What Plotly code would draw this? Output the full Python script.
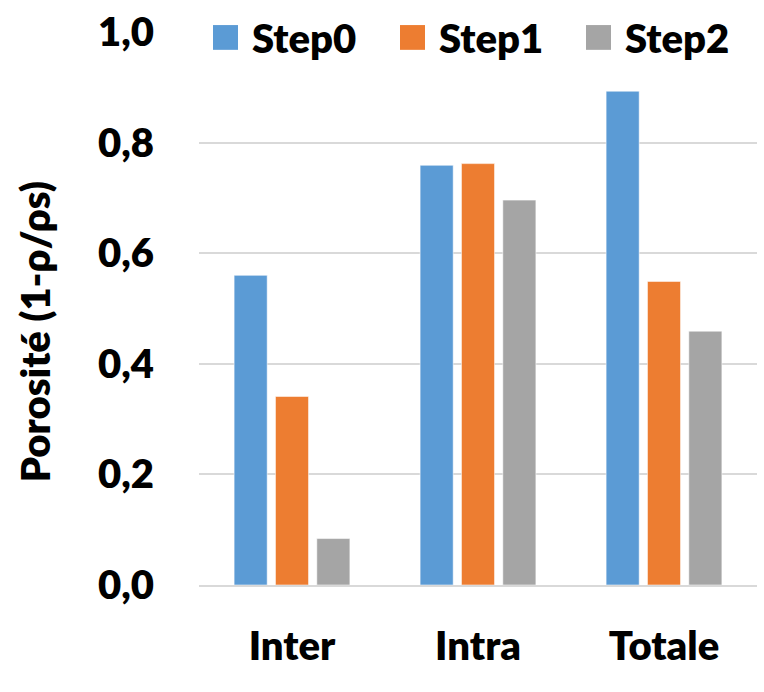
import plotly.graph_objects as go

# Porosity per pore class and processing step
categories = ["Inter", "Intra", "Totale"]
series_names = ["Step0", "Step1", "Step2"]
step0 = [0.56, 0.759, 0.893]
step1 = [0.341, 0.762, 0.549]
step2 = [0.084, 0.696, 0.459]
series_values = [step0, step1, step2]
y_ticks = [0.0, 0.2, 0.4, 0.6, 0.8, 1.0]

colors = ["#5B9BD5", "#ED7D31", "#A5A5A5"]
FONT = "Lato"
WEIGHT = 800
W, H = 764, 692
L, R, T, B = 199, 7, 27, 107

fig = go.Figure()
for name, vals, col in zip(series_names, series_values, colors):
    fig.add_trace(go.Bar(
        x=categories, y=vals, name=name,
        marker=dict(color=col, line=dict(color="rgba(255,255,255,0.55)", width=1)),
        showlegend=False,
    ))

plot_w = W - L - R
plot_h = H - T - B


def px_x(px):
    return (px - L) / plot_w


def px_y(py):
    return (H - B - py) / plot_h


# legend row: coloured squares followed by bold labels
legend_left = [213, 400, 586]
shapes = []
annotations = []
for name, col, x0 in zip(series_names, colors, legend_left):
    shapes.append(dict(type="rect", xref="paper", yref="paper",
                       x0=px_x(x0), x1=px_x(x0 + 25), y0=px_y(45), y1=px_y(20),
                       fillcolor=col, line=dict(width=0)))
    annotations.append(dict(xref="paper", yref="paper", x=px_x(x0 + 37), y=px_y(33),
                            xanchor="left", yanchor="middle", showarrow=False,
                            text=name, font=dict(family=FONT, size=40, color="black", weight=WEIGHT)))

# y-axis title
annotations.append(dict(xref="paper", yref="paper", x=px_x(35), y=px_y(330),
                        xanchor="center", yanchor="middle", showarrow=False, textangle=-90,
                        text="Porosité (1-ρ/ρs)",
                        font=dict(family=FONT, size=40, color="black", weight=WEIGHT)))

fig.update_layout(
    width=W, height=H,
    margin=dict(l=L, r=R, t=T, b=B, pad=0),
    paper_bgcolor="white", plot_bgcolor="white",
    barmode="group", bargap=0.333, bargroupgap=0.2,
    separators=",.",
    font=dict(family=FONT, color="black"),
    shapes=shapes, annotations=annotations,
    showlegend=False,
)
fig.update_xaxes(
    showgrid=False, zeroline=False, showline=True, linecolor="#D9D9D9", linewidth=1.5,
    ticks="", ticklabelstandoff=25,
    tickfont=dict(family=FONT, size=40, color="black", weight=WEIGHT),
)
fig.update_yaxes(
    range=[0, 1.0], tickvals=y_ticks, tickformat=".1f",
    showgrid=True, gridcolor="#D9D9D9", gridwidth=1.5, zeroline=False, showline=False,
    ticks="", ticklabelstandoff=44,
    tickfont=dict(family=FONT, size=40, color="black", weight=WEIGHT),
)

fig.write_html("out.html")
